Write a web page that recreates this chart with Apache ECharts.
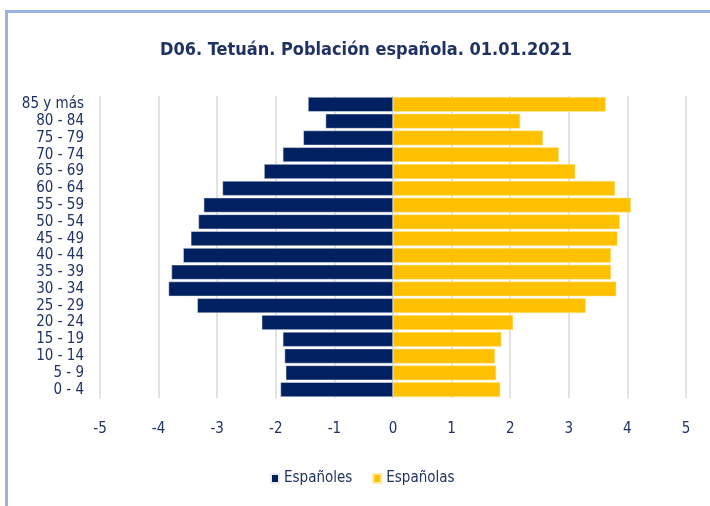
<!DOCTYPE html>
<html><head><meta charset="utf-8">
<script src="https://cdn.jsdelivr.net/npm/echarts@6/dist/echarts.min.js"></script>
<style>html,body{margin:0;padding:0;background:#fff}#c{width:710px;height:506px}</style>
</head><body><div id="c"></div>
<script>
var categories = ['0 - 4','5 - 9','10 - 14','15 - 19','20 - 24','25 - 29','30 - 34','35 - 39','40 - 44','45 - 49','50 - 54','55 - 59','60 - 64','65 - 69','70 - 74','75 - 79','80 - 84','85 y más'];
var espanoles = [-1.92,-1.83,-1.85,-1.88,-2.24,-3.34,-3.83,-3.78,-3.58,-3.45,-3.32,-3.23,-2.91,-2.20,-1.88,-1.53,-1.15,-1.45];
var espanolas = [1.83,1.76,1.74,1.85,2.05,3.29,3.81,3.72,3.72,3.83,3.87,4.06,3.79,3.11,2.83,2.56,2.17,3.63];
var xTicks = [-5,5,1];
var FONT = '"DejaVu Sans Condensed","Liberation Sans Narrow",sans-serif';
var NAVY = '#1f3263';
var chart = echarts.init(document.getElementById('c'));
chart.setOption({
  animation:false,
  backgroundColor:'#fff',
  title:{text:'D06. Tetuán. Población española. 01.01.2021',left:361,top:36,textAlign:'center',
    textStyle:{fontFamily:FONT,fontSize:18,fontWeight:'bold',color:NAVY}},
  graphic:[{type:'rect',shape:{x:6.5,y:11.5,width:760,height:560},style:{fill:'none',stroke:'#9bb3e0',lineWidth:3},z:-1}],
  legend:{bottom:15,left:265,itemWidth:8,itemHeight:9,itemGap:20,icon:'rect',
    textStyle:{fontFamily:FONT,fontSize:15,color:NAVY},data:['Españoles','Españolas']},
  grid:{left:100,right:24,top:96,bottom:108,containLabel:false},
  xAxis:{type:'value',min:xTicks[0],max:xTicks[1],interval:xTicks[2],
    axisLine:{show:false},axisTick:{show:false},
    axisLabel:{fontFamily:FONT,fontSize:15,color:NAVY,margin:24},
    splitLine:{lineStyle:{color:'#d9d9d9',width:1.5}}},
  yAxis:{type:'category',data:categories,axisLine:{show:false},axisTick:{show:false},
    axisLabel:{fontFamily:FONT,fontSize:15,color:NAVY,margin:16,lineHeight:15,interval:0}},
  series:[
    {name:'Españoles',type:'bar',data:espanoles,barGap:'-100%',barCategoryGap:'12%',
      itemStyle:{color:'#002060',borderColor:'#e8ecf4',borderWidth:0.5}},
    {name:'Españolas',type:'bar',data:espanolas,barGap:'-100%',barCategoryGap:'12%',
      itemStyle:{color:'#FFC000',borderColor:'#ffeaa0',borderWidth:0.5}}
  ]
});
</script></body></html>
